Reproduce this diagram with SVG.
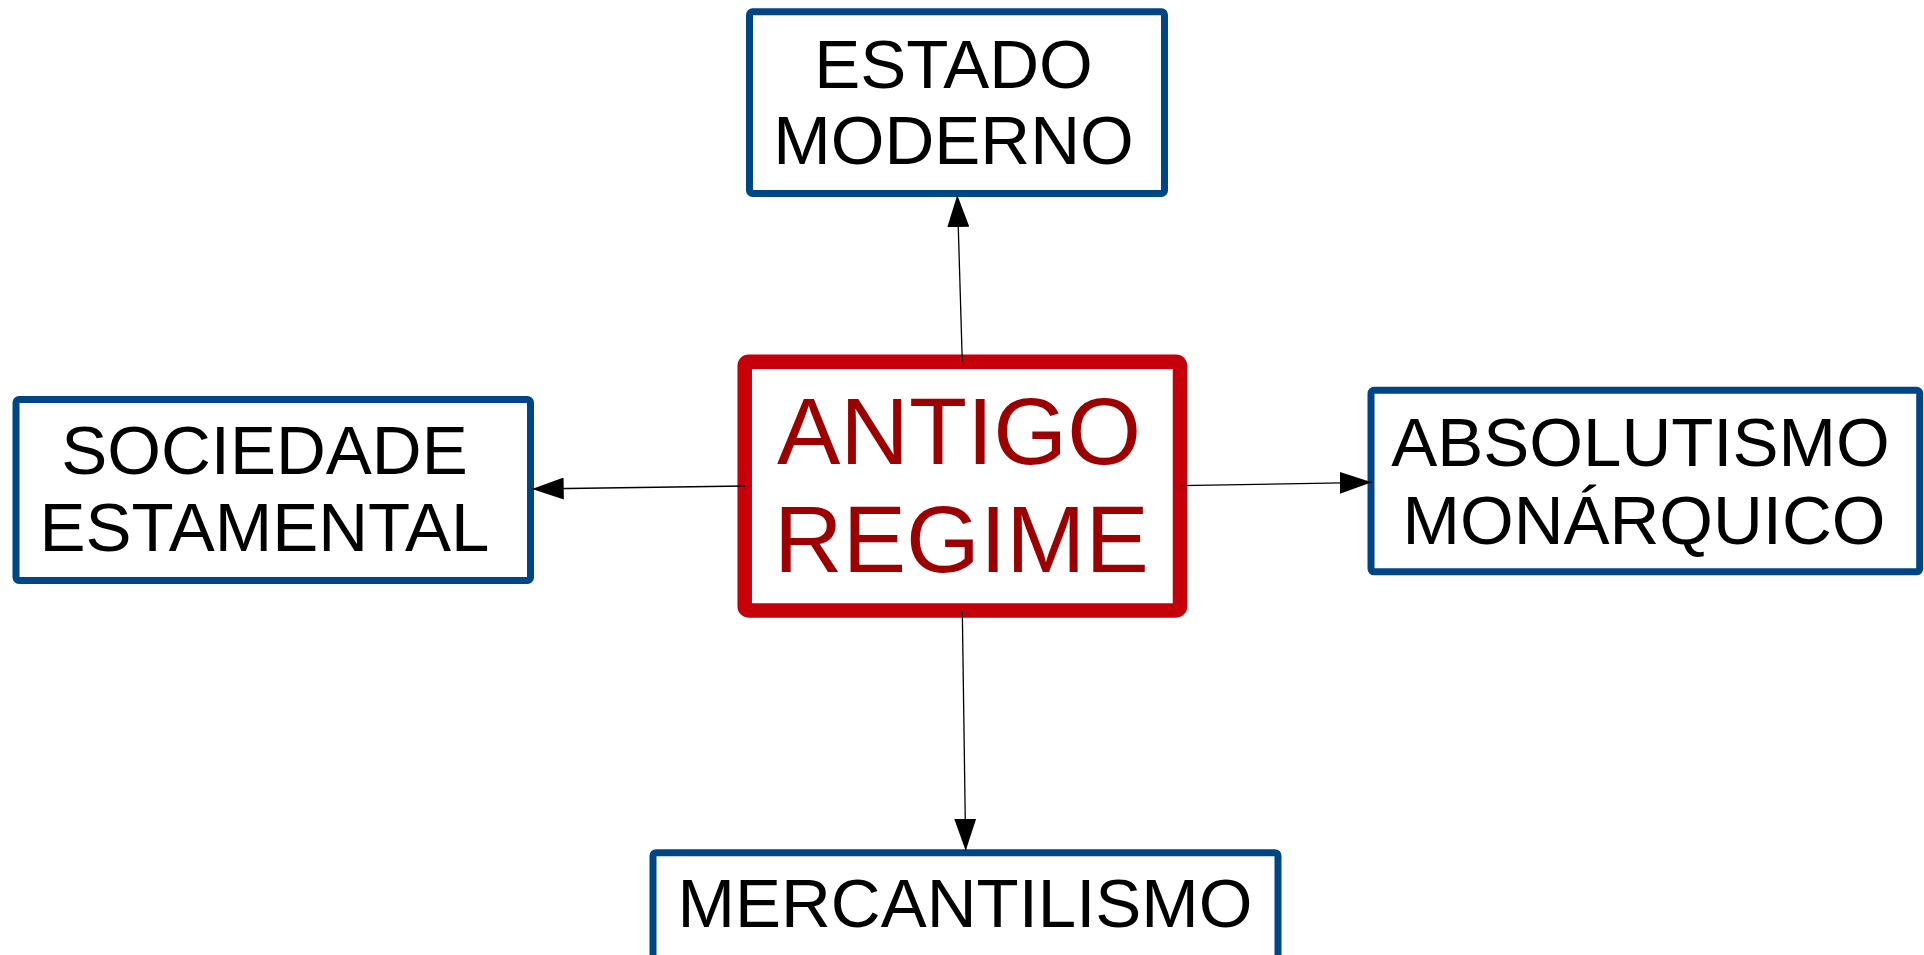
<svg xmlns="http://www.w3.org/2000/svg" width="1924" height="955" viewBox="0 0 1924 955">
  <style>
    .box { fill: #ffffff; stroke: #004586; stroke-width: 7; }
    .main { fill: #ffffff; stroke: #c5000b; stroke-width: 14.5; }
    .lbl { font-family: "Liberation Sans", Arial, sans-serif; font-size: 69px; fill: #000000; text-anchor: middle; }
    .mainlbl { font-family: "Liberation Sans", Arial, sans-serif; font-size: 95px; fill: #9c0000; text-anchor: middle; }
    .conn { stroke: #000000; stroke-width: 1.3; fill: none; marker-end: url(#arrow); }
  </style>
  <defs>
    <marker id="arrow" viewBox="0 0 32 22" refX="32" refY="11" markerWidth="32" markerHeight="22" markerUnits="userSpaceOnUse" orient="auto">
      <path d="M0,0 L32,11 L0,22 z" fill="#000000"/>
    </marker>
  </defs>
  <rect width="1924" height="955" fill="#ffffff"/>

  <g id="node-antigo-regime">
    <rect class="main" x="744.7" y="361.7" width="435.3" height="248.7" rx="4"/>
    <text class="mainlbl" x="959" y="464">ANTIGO</text>
    <text class="mainlbl" x="961.5" y="571.5">REGIME</text>
  </g>

  <g id="node-estado-moderno">
    <rect class="box" x="749.5" y="11.8" width="415" height="181.7" rx="3"/>
    <text class="lbl" x="953.5" y="87.5" font-size="70">ESTADO</text>
    <text class="lbl" x="953.5" y="164">MODERNO</text>
  </g>

  <g id="node-sociedade-estamental">
    <rect class="box" x="16" y="399.5" width="514.5" height="181" rx="3"/>
    <text class="lbl" x="264.5" y="473.5" font-size="68">SOCIEDADE</text>
    <text class="lbl" x="264.5" y="551" font-size="68">ESTAMENTAL</text>
  </g>

  <g id="node-absolutismo-monarquico">
    <rect class="box" x="1371" y="390.3" width="548.7" height="181.5" rx="3"/>
    <text class="lbl" x="1640.5" y="466">ABSOLUTISMO</text>
    <text class="lbl" x="1644" y="543.5">MONÁRQUICO</text>
  </g>

  <g id="node-mercantilismo">
    <rect class="box" x="653" y="852.7" width="625" height="181" rx="3"/>
    <text class="lbl" x="965" y="927" font-size="69.5">MERCANTILISMO</text>
  </g>

  <g id="connectors">
    <line class="conn" x1="962.3" y1="361.7" x2="957.3" y2="195"/>
    <line class="conn" x1="745" y1="486" x2="531.7" y2="489"/>
    <line class="conn" x1="1180" y1="485.7" x2="1371.7" y2="482.3"/>
    <line class="conn" x1="962.3" y1="610.7" x2="965.7" y2="850.7"/>
  </g>
</svg>
